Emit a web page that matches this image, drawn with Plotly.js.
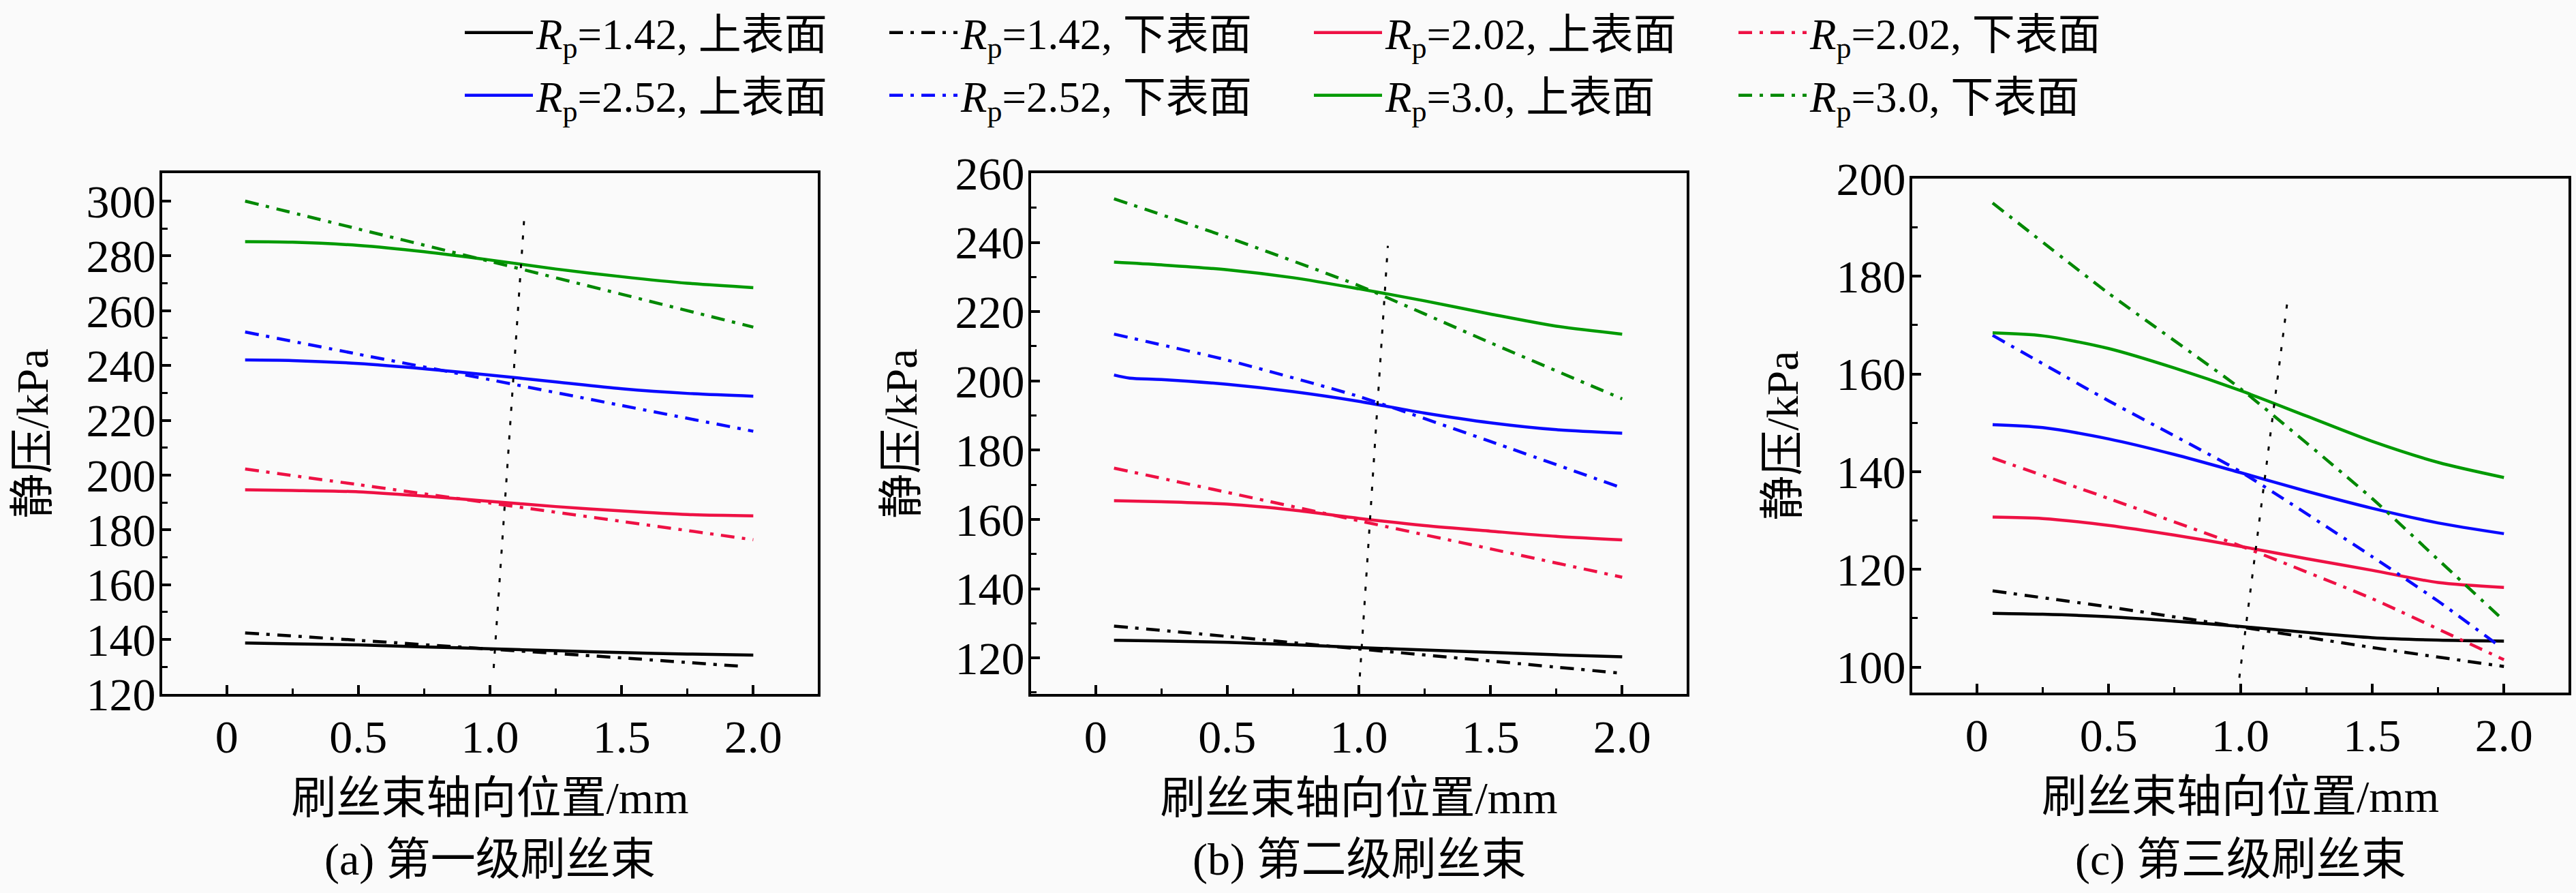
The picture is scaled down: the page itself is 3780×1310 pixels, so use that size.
<!DOCTYPE html>
<html>
<head>
<meta charset="utf-8">
<script src="https://cdn.plot.ly/plotly-3.0.1.min.js"></script>
<style>html,body{margin:0;padding:0;background:#fafafa;}</style>
</head>
<body>
<div id="chart" style="width:3780px;height:1310px;"></div>
<script>
// ---------- data ----------
const seriesNames = ['1.42, 上表面','1.42, 下表面','2.02, 上表面','2.02, 下表面','2.52, 上表面','2.52, 下表面','3.0, 上表面','3.0, 下表面'];
const xTicks = [0, 0.5, 1.0, 1.5, 2.0];
const xTickText = ['0', '0.5', '1.0', '1.5', '2.0'];
const panelCaptions = ['(a) 第一级刷丝束', '(b) 第二级刷丝束', '(c) 第三级刷丝束'];

// panel (a)
const xA_up   = [0.07, 0.25, 0.5, 0.75, 1.0, 1.25, 1.5, 1.75, 2.0];
const a142up  = [138.7, 138.4, 138.0, 137.3, 136.6, 135.9, 135.2, 134.7, 134.3];
const a202up  = [194.6, 194.4, 193.9, 192.3, 190.4, 188.5, 186.9, 185.6, 185.1];
const a252up  = [242.0, 241.8, 240.7, 238.8, 236.5, 234.0, 231.5, 229.8, 228.8];
const a30up   = [285.2, 285.0, 283.8, 281.5, 278.5, 275.2, 272.4, 270.0, 268.4];
const xA_low142 = [0.07, 0.5, 1.0, 1.5, 1.97];
const a142low = [142.4, 139.7, 136.5, 133.3, 130.1];
const xA_low  = [0.07, 0.5, 1.0, 1.5, 2.0];
const a202low = [202.2, 196.5, 189.8, 183.1, 176.4];
const a252low = [252.2, 244.1, 234.8, 225.4, 216.0];
const a30low  = [300.0, 289.8, 278.0, 266.0, 254.0];
const xA_dot  = [1.014, 1.13];
const yA_dot  = [129.6, 293.7];

// panel (b)
const xB_up   = [0.07, 0.25, 0.5, 0.75, 1.0, 1.25, 1.5, 1.75, 2.0];
const b142up  = [125.1, 124.9, 124.5, 123.8, 123.0, 122.3, 121.6, 120.9, 120.3];
const b202up  = [165.4, 165.1, 164.4, 162.7, 160.3, 158.2, 156.6, 155.1, 154.1];
const b30up   = [234.3, 233.5, 232.1, 229.8, 226.6, 223.1, 219.3, 215.8, 213.5];
const xB_252up = [0.07, 0.13, 0.25, 0.5, 0.75, 1.0, 1.25, 1.5, 1.75, 2.0];
const b252up  = [201.7, 200.8, 200.4, 199.0, 196.9, 194.1, 190.7, 187.9, 185.9, 184.9];
const xB_low98 = [0.07, 0.5, 1.0, 1.5, 1.98];
const b142low = [129.2, 126.2, 122.6, 119.1, 115.7];
const b252low = [213.5, 206.0, 195.5, 182.5, 169.6];
const xB_low  = [0.07, 0.5, 1.0, 1.5, 2.0];
const b202low = [174.8, 167.8, 159.6, 151.5, 143.3];
const b30low  = [252.6, 241.5, 227.5, 211.0, 194.8];
const xB_dot  = [1.0, 1.11];
const yB_dot  = [110.5, 239.0];

// panel (c)
const xC_up   = [0.06, 0.25, 0.5, 0.75, 1.0, 1.25, 1.5, 1.75, 2.0];
const c142up  = [111.0, 110.8, 110.3, 109.4, 108.3, 107.1, 106.0, 105.5, 105.3];
const c202up  = [130.7, 130.4, 129.0, 127.0, 124.7, 122.2, 119.8, 117.3, 116.3];
const c252up  = [149.6, 149.0, 146.7, 143.5, 139.8, 136.0, 132.5, 129.5, 127.3];
const c30up   = [168.4, 167.8, 165.2, 161.2, 156.6, 151.4, 146.2, 141.9, 138.8];
const xC_low142 = [0.06, 0.5, 1.0, 1.5, 2.0];
const c142low = [115.6, 112.3, 108.2, 104.0, 100.1];
const xC_low202 = [0.06, 0.5, 1.0, 1.5, 1.9, 2.0];
const c202low = [142.8, 134.5, 124.8, 114.0, 104.0, 101.5];
const xC_low252 = [0.06, 0.5, 1.0, 1.5, 1.75, 1.97];
const c252low = [167.9, 154.5, 140.0, 122.6, 113.5, 104.8];
const xC_low30 = [0.06, 0.5, 1.0, 1.5, 1.75, 2.0];
const c30low  = [195.0, 176.5, 157.0, 134.5, 122.0, 109.5];
const xC_dot  = [0.996, 1.18];
const yC_dot  = [97.8, 175.5];

const yRanges = [[120, 310.2], [109.5, 260], [94.7, 200]];
const yDticks = [20, 20, 20];

// ---------- styling ----------
const FONT = '"Liberation Serif", "Noto Sans CJK SC", serif';
const colors = ['#000000', '#000000', '#ee1144', '#ee1144', '#0a0aff', '#0a0aff', '#009a00', '#008800'];
const DASHDOT = '20px,11px,5px,11px';
const LW = 4.5;

const panels = [
  {xs: [xA_up, xA_low142, xA_up, xA_low, xA_up, xA_low, xA_up, xA_low],
   ys: [a142up, a142low, a202up, a202low, a252up, a252low, a30up, a30low],
   dot: [xA_dot, yA_dot]},
  {xs: [xB_up, xB_low98, xB_up, xB_low, xB_252up, xB_low98, xB_up, xB_low],
   ys: [b142up, b142low, b202up, b202low, b252up, b252low, b30up, b30low],
   dot: [xB_dot, yB_dot]},
  {xs: [xC_up, xC_low142, xC_up, xC_low202, xC_up, xC_low252, xC_up, xC_low30],
   ys: [c142up, c142low, c202up, c202low, c252up, c252low, c30up, c30low],
   dot: [xC_dot, yC_dot]}
];

const traces = [];
panels.forEach((p, pi) => {
  const xa = pi === 0 ? 'x' : 'x' + (pi + 1);
  const ya = pi === 0 ? 'y' : 'y' + (pi + 1);
  for (let i = 0; i < 8; i++) {
    const lower = i % 2 === 1;
    const tr = {
      type: 'scatter', mode: 'lines',
      x: p.xs[i], y: p.ys[i], xaxis: xa, yaxis: ya,
      showlegend: pi === 0,
      line: {color: colors[i], width: LW, dash: lower ? DASHDOT : 'solid', shape: 'spline', smoothing: lower ? 0.5 : 0.8},
      hoverinfo: 'skip'
    };
    if (pi === 0) {
      tr.name = '<i>R</i><sub>p</sub>=' + seriesNames[i];
      tr.legend = i < 4 ? 'legend' : 'legend2';
    }
    traces.push(tr);
  }
  traces.push({
    type: 'scatter', mode: 'lines', x: p.dot[0], y: p.dot[1], xaxis: xa, yaxis: ya,
    showlegend: false, line: {color: '#000000', width: 3, dash: '6px,15px'}, hoverinfo: 'skip'
  });
});

const xDomains = [[238/3780, 1200/3780], [1513/3780, 2475/3780], [2806/3780, 3769/3780]];
const yDomains = [[(1310-1016)/1310, (1310-245)/1310], [(1310-1016)/1310, (1310-245)/1310], [(1310-1014)/1310, (1310-253)/1310]];

const legendCommon = {orientation: 'h', x: 677/3780, xanchor: 'left', yanchor: 'middle',
  itemwidth: 100, entrywidth: 508, entrywidthmode: 'pixels', bgcolor: 'rgba(0,0,0,0)',
  font: {family: FONT, size: 63, color: '#000'}, tracegroupgap: 0};

const layout = {
  width: 3780, height: 1310,
  margin: {l: 0, r: 0, t: 0, b: 0},
  paper_bgcolor: '#fafafa', plot_bgcolor: '#fafafa',
  font: {family: FONT, size: 64, color: '#000'},
  showlegend: true,
  legend: Object.assign({}, legendCommon, {y: 1 - 37/1310}),
  legend2: Object.assign({}, legendCommon, {y: 1 - 130/1310}),
  annotations: []
};

for (let k = 0; k < 3; k++) {
  const sx = k === 0 ? '' : String(k + 1);
  layout['xaxis' + sx] = {
    domain: xDomains[k], anchor: 'y' + sx, range: [-0.245, 2.245],
    tickmode: 'array', tickvals: xTicks, ticktext: xTickText,
    ticks: 'inside', ticklen: 13, tickwidth: 4, tickcolor: '#000',
    minor: {tickmode: 'array', tickvals: [0.25, 0.75, 1.25, 1.75], ticks: 'inside', ticklen: 8, tickwidth: 3, tickcolor: '#000', showgrid: false},
    showline: true, linewidth: 4, linecolor: '#000', mirror: true,
    showgrid: false, zeroline: false,
    tickfont: {family: FONT, size: 68, color: '#000'},
    title: {text: '刷丝束轴向位置/mm', font: {family: FONT, size: 66, color: '#000'}, standoff: 30},
    automargin: false, fixedrange: true
  };
  layout['yaxis' + sx] = {
    domain: yDomains[k], anchor: 'x' + sx, range: yRanges[k],
    tick0: 0, dtick: yDticks[k],
    ticks: 'inside', ticklen: 13, tickwidth: 4, tickcolor: '#000',
    minor: {dtick: yDticks[k] / 2, ticks: 'inside', ticklen: 8, tickwidth: 3, tickcolor: '#000', showgrid: false},
    showline: true, linewidth: 4, linecolor: '#000', mirror: true,
    showgrid: false, zeroline: false,
    tickfont: {family: FONT, size: 68, color: '#000'},
    ticklabelstandoff: -8,
    title: {text: '静压/kPa', font: {family: FONT, size: 66, color: '#000'}, standoff: 35},
    automargin: false, fixedrange: true
  };
  layout.annotations.push({
    text: panelCaptions[k], xref: 'x' + sx + ' domain', x: 0.5, xanchor: 'center',
    yref: 'paper', y: 1 - 1261/1310, yanchor: 'middle', showarrow: false,
    font: {family: FONT, size: 66, color: '#000'}
  });
}

Plotly.newPlot('chart', traces, layout, {displayModeBar: false, staticPlot: true});
</script>
</body>
</html>
